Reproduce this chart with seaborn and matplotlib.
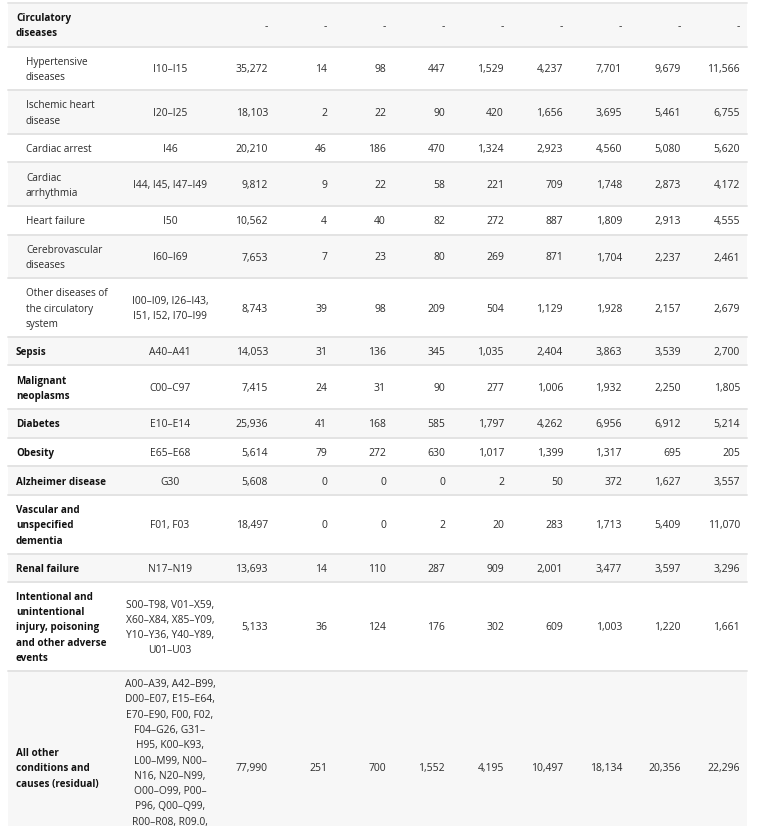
import matplotlib
matplotlib.use("Agg")
import matplotlib.pyplot as plt
import seaborn as sns

# table contents
causes = [
    "Circulatory\ndiseases",
    "Hypertensive\ndiseases",
    "Ischemic heart\ndisease",
    "Cardiac arrest",
    "Cardiac\narrhythmia",
    "Heart failure",
    "Cerebrovascular\ndiseases",
    "Other diseases of\nthe circulatory\nsystem",
    "Sepsis",
    "Malignant\nneoplasms",
    "Diabetes",
    "Obesity",
    "Alzheimer disease",
    "Vascular and\nunspecified\ndementia",
    "Renal failure",
    "Intentional and\nunintentional\ninjury, poisoning\nand other adverse\nevents",
    "All other\nconditions and\ncauses (residual)",
]
is_sub = [False, True, True, True, True, True, True, True,
          False, False, False, False, False, False, False, False, False]
codes = [
    "",
    "I10\u2013I15",
    "I20\u2013I25",
    "I46",
    "I44, I45, I47\u2013I49",
    "I50",
    "I60\u2013I69",
    "I00\u2013I09, I26\u2013I43,\nI51, I52, I70\u2013I99",
    "A40\u2013A41",
    "C00\u2013C97",
    "E10\u2013E14",
    "E65\u2013E68",
    "G30",
    "F01, F03",
    "N17\u2013N19",
    "S00\u2013T98, V01\u2013X59,\nX60\u2013X84, X85\u2013Y09,\nY10\u2013Y36, Y40\u2013Y89,\nU01\u2013U03",
    "A00\u2013A39, A42\u2013B99,\nD00\u2013E07, E15\u2013E64,\nE70\u2013E90, F00, F02,\nF04\u2013G26, G31\u2013\nH95, K00\u2013K93,\n"
    "L00\u2013M99, N00\u2013\nN16, N20\u2013N99,\nO00\u2013O99, P00\u2013\nP96, Q00\u2013Q99,\nR00\u2013R08, R09.0,\n"
    "R09.2\u2013R99, U04\u2013\nU85",
]
all_ages = [None, 35272, 18103, 20210, 9812, 10562, 7653, 8743, 14053, 7415,
            25936, 5614, 5608, 18497, 13693, 5133, 77990]
age_groups = [
    [None] * 8,
    [14, 98, 447, 1529, 4237, 7701, 9679, 11566],
    [2, 22, 90, 420, 1656, 3695, 5461, 6755],
    [46, 186, 470, 1324, 2923, 4560, 5080, 5620],
    [9, 22, 58, 221, 709, 1748, 2873, 4172],
    [4, 40, 82, 272, 887, 1809, 2913, 4555],
    [7, 23, 80, 269, 871, 1704, 2237, 2461],
    [39, 98, 209, 504, 1129, 1928, 2157, 2679],
    [31, 136, 345, 1035, 2404, 3863, 3539, 2700],
    [24, 31, 90, 277, 1006, 1932, 2250, 1805],
    [41, 168, 585, 1797, 4262, 6956, 6912, 5214],
    [79, 272, 630, 1017, 1399, 1317, 695, 205],
    [0, 0, 0, 2, 50, 372, 1627, 3557],
    [0, 0, 2, 20, 283, 1713, 5409, 11070],
    [14, 110, 287, 909, 2001, 3477, 3597, 3296],
    [36, 124, 176, 302, 609, 1003, 1220, 1661],
    [251, 700, 1552, 4195, 10497, 18134, 20356, 22296],
]


def fmt(v):
    return "-" if v is None else f"{v:,}"


sns.set_theme(style="white")
plt.rcParams["font.family"] = ["Open Sans", "DejaVu Sans"]

W, H = 768, 826
fig = plt.figure(figsize=(W / 100, H / 100), dpi=100)
ax = fig.add_axes([0, 0, 1, 1])
ax.set_xlim(0, W)
ax.set_ylim(H, 0)
ax.axis("off")

left, right = 8, 747
row_line = 14.95   # row height added per text line
pad = 13.7
text_line = 15.3   # spacing of the code lines
text_dy = 1.5      # texts sit a touch below the row middle
txt_col = "#2b2b2b"
num_right = [268 + 59 * i for i in range(9)]

y = 3
ax.plot([left, right], [y, y], color="#e6e6e6", lw=1.4)
for i, label in enumerate(causes):
    code_lines = codes[i].split("\n")
    n = max(label.count("\n") + 1, len(code_lines))
    h = pad + row_line * n
    if i % 2 == 0:
        ax.axhspan(y, y + h, xmin=left / W, xmax=right / W, color="#f7f7f7", lw=0)
    yc = y + h / 2 + text_dy
    ax.text(26 if is_sub[i] else 16, yc, label, ha="left", va="center",
            fontsize=7.2 if is_sub[i] else 7.1,
            color=txt_col if is_sub[i] else "#111111",
            fontweight="normal" if is_sub[i] else "bold", linespacing=1.55)
    # one text per code line, lines below the page are not drawn
    for k, line in enumerate(code_lines):
        ly = yc + (k - (len(code_lines) - 1) / 2) * text_line
        if ly < H - 3:
            ax.text(170, ly, line, ha="center", va="center", fontsize=7.4,
                    color=txt_col)
    vals = [all_ages[i]] + age_groups[i]
    for x, v in zip(num_right, vals):
        ax.text(x, yc, fmt(v), ha="right", va="center", fontsize=7.5, color=txt_col)
    y += h
    ax.plot([left, right], [y, y], color="#e3e3e3", lw=1.4)

fig.savefig("out.png", dpi=100)
